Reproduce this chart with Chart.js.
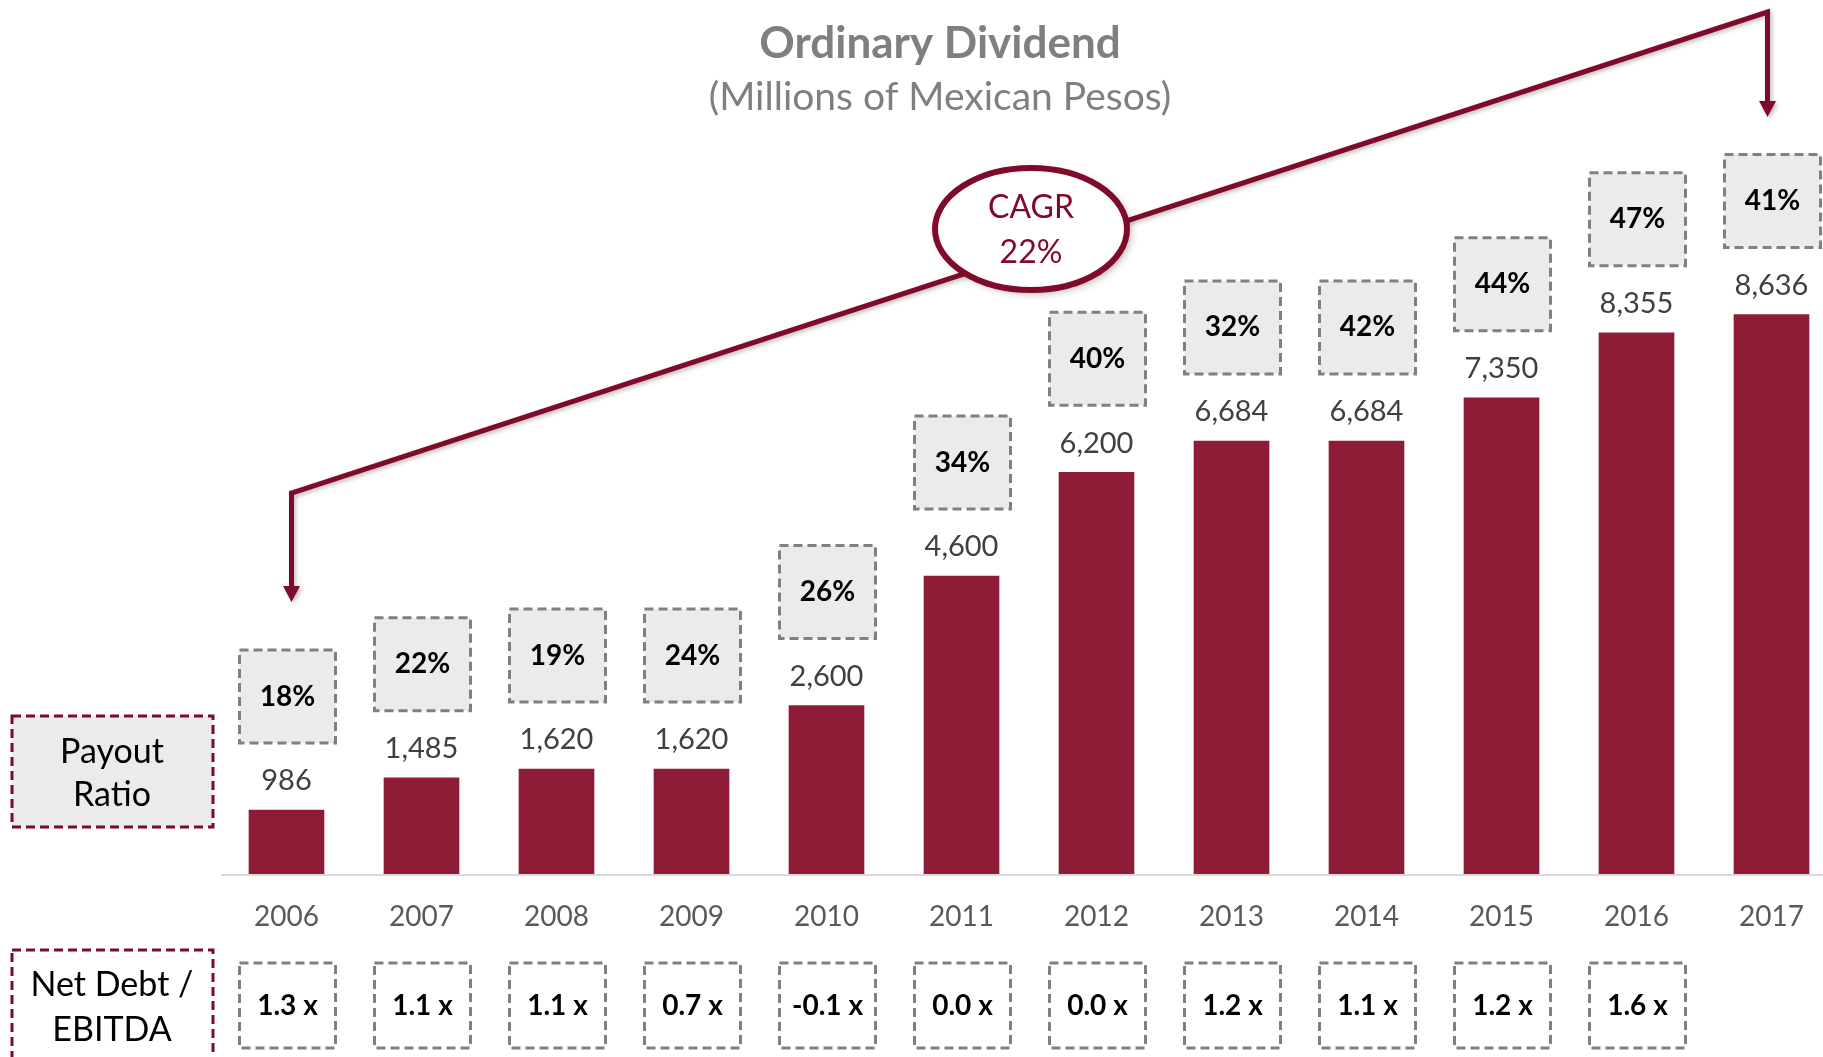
<!DOCTYPE html>
<html>
<head>
<meta charset="utf-8">
<script src="https://cdn.jsdelivr.net/npm/chart.js@4.4.1/dist/chart.umd.min.js"></script>
<style>
    html, body { margin: 0; padding: 0; background: #ffffff; }
    #wrap { width: 1823px; height: 1057px; position: relative; }
</style>
</head>
<body>
<div id="wrap"><canvas id="chartDividendo"></canvas></div>
<script>
// ======================== DADOS ========================
const anos = ['2006', '2007', '2008', '2009', '2010', '2011', '2012', '2013', '2014', '2015', '2016', '2017'];
const dividendos = [986, 1485, 1620, 1620, 2600, 4600, 6200, 6684, 6684, 7350, 8355, 8636];
const payoutRatio = [18, 22, 19, 24, 26, 34, 40, 32, 42, 44, 47, 41];
const dividaEbitda = [1.3, 1.1, 1.1, 0.7, -0.1, 0.0, 0.0, 1.2, 1.1, 1.2, 1.6];
const cagrTexto = ['CAGR', '22%'];
const titulo = 'Ordinary Dividend';
const subtitulo = '(Millions of Mexican Pesos)';

const VINHO = '#8e1c36';
const VINHO_LINHA = '#800a2a';
const FONTE = 'Lato, "Open Sans", sans-serif';

// ======================== AUXILIARES ========================
function caixaTracejada(ctx, x, y, w, h, fill, stroke) {
    ctx.save();
    ctx.fillStyle = fill;
    ctx.fillRect(x, y, w, h);
    ctx.setLineDash([9, 5]);
    ctx.lineWidth = 3;
    ctx.strokeStyle = stroke;
    ctx.strokeRect(x, y, w, h);
    ctx.restore();
}

function seta(ctx, x, y) {
    // ponta virada para baixo, com a ponta em (x, y)
    ctx.beginPath();
    ctx.moveTo(x - 8.5, y - 16);
    ctx.lineTo(x + 8.5, y - 16);
    ctx.lineTo(x, y);
    ctx.closePath();
    ctx.fill();
}

const anotacoes = {
    id: 'anotacoes',
    afterDatasetsDraw(chart) {
        const ctx = chart.ctx;
        const xs = chart.scales.x;
        const ys = chart.scales.y;
        const base = ys.getPixelForValue(0);

        // linha de base
        ctx.save();
        ctx.strokeStyle = '#d9d9d9';
        ctx.lineWidth = 2;
        ctx.beginPath();
        ctx.moveTo(221, base + 1);
        ctx.lineTo(chart.width, base + 1);
        ctx.stroke();
        ctx.restore();

        ctx.save();
        ctx.textAlign = 'center';
        ctx.textBaseline = 'middle';

        // título
        ctx.fillStyle = '#7f7f7f';
        ctx.font = 'bold 44px ' + FONTE;
        ctx.fillText(titulo, 940, 44);
        ctx.font = '39px ' + FONTE;
        ctx.fillText(subtitulo, 940, 97);

        dividendos.forEach((v, i) => {
            const x = xs.getPixelForValue(i);
            const topo = ys.getPixelForValue(v);

            ctx.fillStyle = '#404040';
            ctx.font = '29px ' + FONTE;
            ctx.fillText(v.toLocaleString('en-US'), x, topo - 29);

            const bx = x + 1 - 48;
            const by = topo - 67 - 93;
            caixaTracejada(ctx, bx, by, 96, 93, '#ebebeb', '#808080');
            ctx.fillStyle = '#000000';
            ctx.font = 'bold 28px ' + FONTE;
            ctx.fillText(payoutRatio[i] + '%', x + 1, by + 46.5);
        });

        dividaEbitda.forEach((v, i) => {
            const x = xs.getPixelForValue(i) + 1;
            caixaTracejada(ctx, x - 48, 963, 96, 85, '#ffffff', '#808080');
            ctx.fillStyle = '#000000';
            ctx.font = 'bold 28px ' + FONTE;
            ctx.fillText(v.toFixed(1) + ' x', x, 1006);
        });

        // rótulos da esquerda
        caixaTracejada(ctx, 12, 716, 201, 111, '#ebebeb', VINHO_LINHA);
        caixaTracejada(ctx, 12, 950, 201, 120, '#ffffff', VINHO_LINHA);
        ctx.fillStyle = '#000000';
        ctx.font = '34px ' + FONTE;
        ctx.fillText('Payout', 112, 752);
        ctx.fillText('Ratio', 112, 795);
        ctx.fillText('Net Debt /', 112, 985);
        ctx.fillText('EBITDA', 112, 1030);

        // seta do CAGR
        const xi = xs.getPixelForValue(0) + 5;
        const xf = xs.getPixelForValue(dividendos.length - 1) - 4;
        ctx.shadowColor = 'rgba(0,0,0,0.25)';
        ctx.shadowBlur = 4;
        ctx.shadowOffsetX = 2;
        ctx.shadowOffsetY = 2;
        ctx.strokeStyle = VINHO_LINHA;
        ctx.fillStyle = VINHO_LINHA;
        ctx.lineWidth = 5;
        ctx.lineJoin = 'miter';
        ctx.beginPath();
        ctx.moveTo(xi, 588);
        ctx.lineTo(xi, 493);
        ctx.lineTo(xf, 12);
        ctx.lineTo(xf, 103);
        ctx.stroke();
        seta(ctx, xi, 602);
        seta(ctx, xf, 117);

        // elipse
        ctx.shadowColor = 'rgba(0,0,0,0.35)';
        ctx.shadowBlur = 8;
        ctx.shadowOffsetX = 3;
        ctx.shadowOffsetY = 3;
        ctx.beginPath();
        ctx.ellipse(1031, 229, 96, 61, 0, 0, Math.PI * 2);
        ctx.fillStyle = '#ffffff';
        ctx.fill();
        ctx.shadowColor = 'transparent';
        ctx.lineWidth = 6;
        ctx.stroke();
        ctx.fillStyle = VINHO_LINHA;
        ctx.font = '32px ' + FONTE;
        ctx.fillText(cagrTexto[0], 1031, 208);
        ctx.fillText(cagrTexto[1], 1031, 253);
        ctx.restore();
    },
};

// ======================== GRÁFICO ========================
new Chart(document.getElementById('chartDividendo'), {
    type: 'bar',
    data: {
        labels: anos,
        datasets: [
            {
                data: dividendos,
                backgroundColor: VINHO,
                barThickness: 75,
                clip: false,
            },
        ],
    },
    options: {
        responsive: true,
        maintainAspectRatio: false,
        animation: false,
        layout: {
            padding: { left: 286.5, right: 51.5, top: 116, bottom: 0 },
        },
        plugins: {
            legend: { display: false },
            tooltip: { enabled: false },
        },
        scales: {
            x: {
                offset: false,
                grid: { display: false, drawTicks: false },
                border: { display: false },
                ticks: {
                    color: '#595959',
                    font: { family: FONTE, size: 28 },
                    padding: 26,
                    autoSkip: false,
                    maxRotation: 0,
                },
                afterFit: (s) => {
                    s.height = 183;
                    s.paddingLeft = 0;
                    s.paddingRight = 0;
                },
            },
            y: {
                display: false,
                min: 0,
                max: 11700,
            },
        },
    },
    plugins: [anotacoes],
});
</script>
</body>
</html>
